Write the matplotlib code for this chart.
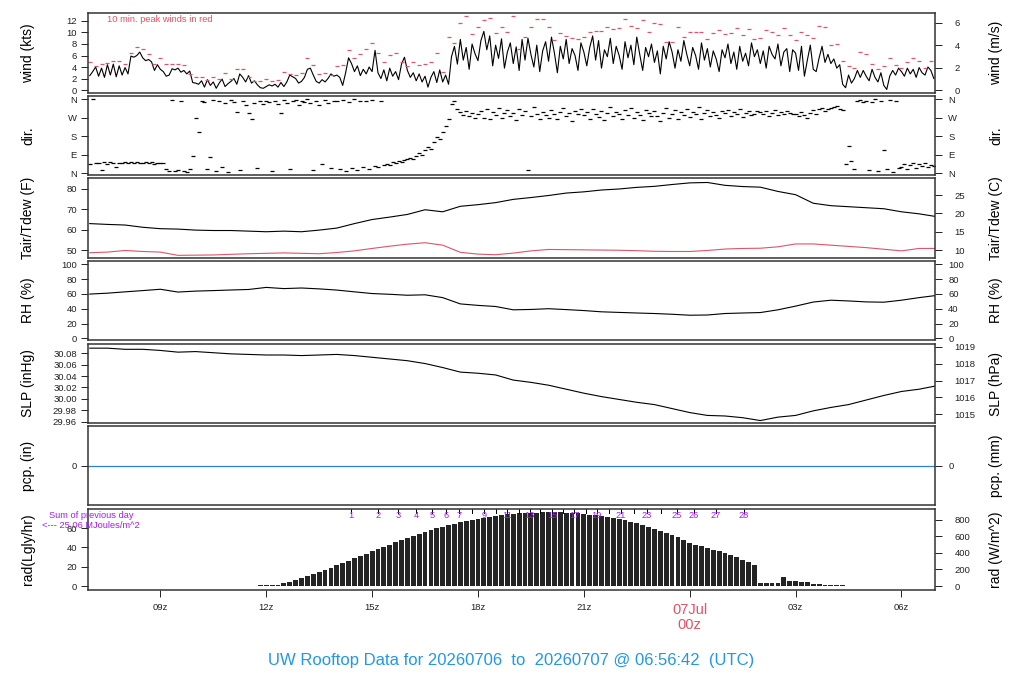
import numpy as np
import matplotlib
matplotlib.use('Agg')
import matplotlib.pyplot as plt
from matplotlib import transforms

plt.rcParams['font.family'] = ['Liberation Sans', 'DejaVu Sans']

# ---------------- data (time in hours since 2026-07-06 00z) ----------------
t_start = 6.95
t_end = 30.95

wind_t0 = 7.0
wind_dt = 5.0 / 60.0
wind_kts = [
    2.5, 3.2, 4.0, 2.4, 3.8, 2.2, 4.4, 2.6, 4.5, 2.3, 4.2, 2.6,
    3.9, 2.8, 5.9, 5.7, 6.0, 6.6, 5.6, 5.1, 5.3, 4.9, 3.4, 4.4,
    3.6, 3.2, 2.4, 2.6, 3.7, 3.5, 3.8, 3.1, 3.4, 2.8, 3.3, 1.3,
    1.2, 1.0, 1.6, 0.5, 1.8, 0.8, 1.4, 0.3, 1.2, 1.9, 0.6, 1.1,
    1.5, 2.0, 1.0, 2.8, 2.2, 1.4, 2.5, 1.2, 1.6, 0.9, 0.4, 0.3,
    0.6, 0.9, 0.7, 1.0, 0.5, 1.3, 0.6, 1.4, 2.6, 2.3, 2.0, 1.2,
    1.5, 2.2, 3.6, 3.8, 2.6, 1.5, 1.2, 1.8, 1.4, 2.0, 2.8, 2.4,
    2.6, 2.2, 0.8, 3.0, 5.6, 4.6, 3.2, 4.2, 2.5, 3.6, 2.8, 4.0,
    3.2, 6.9, 3.0, 2.0, 3.5, 1.6, 3.8, 2.4, 3.2, 1.8, 4.5, 5.7,
    3.4, 2.2, 3.0, 1.6, 2.8, 1.4, 2.4, 0.5, 2.2, 3.2, 1.3, 3.5,
    1.4, 2.6, 1.0, 5.8, 7.6, 4.5, 8.8, 5.2, 7.4, 3.6, 8.0, 6.3,
    5.1, 8.6, 10.2, 7.0, 9.4, 4.2, 7.8, 5.5, 8.9, 3.8, 6.6, 8.2,
    4.6, 7.5, 3.4, 8.8, 5.2, 9.0, 6.2, 4.0, 7.8, 3.2, 6.8, 8.4,
    5.0, 9.2, 6.4, 3.0, 7.6, 5.4, 8.8, 4.6, 7.2, 6.0, 3.4, 8.2,
    6.6, 4.2, 7.4, 9.4, 5.2, 8.6, 3.8, 7.0, 5.8, 9.0, 4.6, 7.6,
    6.0, 3.6, 8.4, 5.6, 7.8, 4.4, 9.2, 6.2, 3.4, 7.4, 5.8, 8.0,
    4.8, 6.8, 2.8, 7.6, 5.4, 8.4, 6.6, 3.8, 7.0, 5.0, 8.6, 6.2,
    4.2, 7.4, 6.0, 3.6, 8.2, 5.2, 7.2, 4.0, 6.8, 5.4, 3.2, 7.0,
    5.6, 8.0, 4.6, 6.6, 3.6, 7.6, 5.0, 6.4, 4.2, 8.2, 5.8, 7.0,
    4.6, 6.8, 3.8, 7.6, 6.2, 5.4, 8.0, 4.2, 6.6, 7.2, 3.2, 7.0,
    6.4, 3.4, 7.6, 2.4, 5.2, 7.8, 3.6, 3.2, 5.6, 7.6, 4.8, 6.2,
    4.6, 5.4, 3.8, 4.4, 1.0, 0.4, 2.6, 1.2, 2.0, 3.4, 2.2, 3.4,
    2.4, 1.6, 3.6, 2.2, 1.4, 3.0, 0.8, 0.1, 2.4, 3.4, 2.6, 3.8,
    3.2, 2.4, 3.8, 2.8, 3.6, 2.2, 3.9, 3.0, 2.6, 4.0, 3.4, 2.0,
]

peak_t0 = 7.0
peak_dt = 10.0 / 60.0
peak_kts = [
    4.8, 4.2, 4.6, 4.7, 5.0, 5.0,
    4.6, 6.5, 7.4, 7.2, 6.2, 4.5,
    5.6, 4.6, 4.6, 4.5, 4.4, 2.8,
    2.3, 2.3, 1.8, 2.3, 2.0, 3.0,
    2.0, 3.6, 3.6, 2.2, 1.6, 1.5,
    2.0, 1.6, 1.8, 3.2, 2.8, 2.6,
    3.0, 5.6, 4.4, 2.8, 3.0, 2.6,
    4.2, 4.4, 6.9, 5.6, 6.3, 7.2,
    8.1, 6.4, 4.8, 6.1, 6.4, 4.9,
    4.1, 4.9, 4.3, 4.6, 4.9, 6.4,
    3.1, 9.2, 8.1, 11.6, 12.9, 9.7,
    10.9, 12.1, 12.5, 9.9, 10.9, 10.1,
    12.9, 7.1, 9.3, 10.9, 12.3, 12.3,
    10.9, 8.7, 9.9, 9.4, 9.0, 8.8,
    9.2, 10.1, 10.3, 10.3, 10.9, 10.6,
    10.7, 12.3, 11.2, 10.7, 12.1, 10.1,
    11.6, 11.5, 8.4, 8.4, 10.9, 9.2,
    10.1, 10.0, 10.1, 8.8, 9.9, 10.4,
    9.7, 9.9, 10.7, 9.6, 10.6, 8.8,
    9.1, 10.5, 10.0, 9.6, 10.7, 9.5,
    8.7, 10.0, 9.5, 9.0, 11.1, 10.9,
    7.8, 8.0, 5.0, 4.2, 3.9, 6.6,
    6.2, 4.6, 3.7, 4.2, 5.5, 4.4,
    3.9, 4.8, 5.5, 5.0, 3.9, 5.1,
]

dir_t0 = 7.0
dir_dt = 5.0 / 60.0
dir_deg = [
    45, 358, 50, 48, 15, 52, 46, 55, 48, 30, 50, 47,
    52, 48, 55, 50, 53, 47, 50, 55, 49, 52, 46, 50,
    48, 50, 18, 12, 355, 8, 15, 352, 10, 5, 20, 85,
    266, 200, 350, 345, 20, 80, 355, 10, 348, 30, 340, 5,
    355, 345, 298, 15, 348, 330, 290, 265, 340, 25, 352, 335,
    350, 345, 10, 352, 338, 290, 355, 340, 20, 348, 356, 330,
    352, 345, 358, 340, 15, 350, 330, 45, 355, 342, 25, 350,
    350, 20, 355, 10, 345, 25, 358, 15, 352, 30, 348, 20,
    355, 35, 28, 350, 40, 45, 38, 52, 48, 60, 55, 65,
    70, 75, 68, 85, 95, 90, 110, 125, 118, 150, 175, 165,
    200, 230, 265, 335, 348, 310, 295, 282, 300, 275, 290, 270,
    285, 300, 270, 310, 262, 295, 280, 315, 268, 290, 305, 275,
    292, 258, 310, 280, 300, 15, 275, 320, 288, 265, 298, 282,
    270, 305, 285, 262, 298, 318, 278, 290, 255, 300, 285, 310,
    280, 296, 265, 312, 288, 272, 302, 258, 292, 320, 276, 298,
    288, 262, 305, 280, 315, 270, 295, 283, 260, 308, 290, 275,
    300, 278, 255, 292, 318, 268, 285, 305, 262, 296, 280, 310,
    272, 298, 285, 320, 265, 290, 308, 278, 295, 282, 268, 300,
    290, 305, 275, 298, 285, 310, 272, 294, 300, 280, 288, 302,
    295, 285, 300, 278, 290, 305, 282, 296, 288, 300, 292, 285,
    288, 275, 298, 282, 270, 292, 305, 286, 310, 318, 300, 312,
    315, 320, 328, 312, 308, 45, 130, 60, 20, 350, 355, 345,
    352, 15, 345, 358, 10, 348, 110, 20, 355, 5, 350, 25,
    30, 45, 20, 38, 50, 25, 42, 35, 48, 28, 40, 33,
]

met_t0 = 7.0
met_dt = 0.5
tair_f = [63.0, 62.6, 62.3, 61.2, 60.5, 60.3, 59.8, 59.6, 59.6, 59.3, 59.0, 59.3,
          59.0, 59.8, 60.8, 63.0, 65.0, 66.2, 67.5, 69.8, 68.8, 71.5, 72.3, 73.3,
          74.9, 75.8, 76.8, 78.0, 78.6, 79.5, 80.0, 80.8, 81.3, 82.2, 83.0, 83.2,
          81.8, 81.2, 80.9, 78.8, 77.2, 73.0, 71.8, 71.3, 70.8, 70.3, 68.8, 67.8, 66.4]
tdew_f = [48.7, 49.0, 49.8, 49.3, 49.0, 47.4, 47.5, 47.6, 47.9, 48.2, 48.4, 48.6,
          48.4, 48.2, 48.8, 49.6, 50.8, 51.9, 52.9, 53.6, 52.4, 48.9, 48.0, 47.7,
          48.5, 49.6, 50.3, 50.2, 50.1, 50.0, 49.9, 49.7, 49.4, 49.3, 49.3, 49.8,
          50.5, 50.8, 50.9, 51.6, 53.0, 53.0, 52.4, 51.8, 51.2, 50.4, 49.6, 50.8, 50.8]
rh_pct = [59.8, 61.0, 62.8, 64.5, 66.3, 62.5, 63.8, 64.5, 65.3, 66.0, 68.8, 67.2,
          68.0, 66.8, 65.2, 62.8, 60.5, 59.5, 58.2, 58.8, 55.0, 46.5, 44.5, 43.0,
          38.5, 39.0, 40.0, 38.8, 37.5, 35.8, 35.0, 34.2, 33.5, 32.5, 31.2, 31.5,
          33.5, 34.2, 34.8, 38.5, 43.5, 49.0, 51.5, 50.5, 49.2, 48.8, 51.5, 55.0, 58.0]
slp_inhg = [30.089, 30.089, 30.087, 30.087, 30.085, 30.082, 30.083, 30.081, 30.079,
            30.078, 30.077, 30.077, 30.076, 30.077, 30.078, 30.076, 30.073, 30.070,
            30.067, 30.062, 30.055, 30.047, 30.045, 30.042, 30.033, 30.029, 30.024,
            30.017, 30.010, 30.004, 29.999, 29.994, 29.990, 29.983, 29.976, 29.971,
            29.970, 29.967, 29.962, 29.968, 29.971, 29.979, 29.985, 29.990, 29.998,
            30.006, 30.013, 30.017, 30.023]

pcp_t = [6.95, 30.95]
pcp_in = [0.0, 0.0]

rad_t0 = 11.0 + 50.0 / 60.0
rad_dt = 10.0 / 60.0
rad_ly = [0.8, 0.8, 1.0, 1.5, 2.9, 4.7, 6.5, 8.4, 10.4, 12.2, 14.1, 16.3, 19.2, 21.4,
          23.9, 26.3, 28.8, 31.2, 33.7, 36.0, 37.9, 40.0, 42.4, 45.7, 47.9, 50.0,
          52.0, 54.1, 56.3, 58.1, 60.0, 61.6, 63.2, 64.7, 66.0, 67.2, 68.3, 69.6,
          70.9, 72.0, 73.0, 73.8, 74.5, 75.0, 75.4, 75.7, 75.9, 76.1, 76.2, 76.3,
          76.3, 76.2, 76.0, 75.7, 75.3, 74.7, 74.1, 73.4, 72.6, 71.6, 70.6, 69.4,
          67.9, 66.5, 65.1, 63.2, 61.4, 59.6, 57.5, 55.3, 53.0, 50.8, 47.9, 44.9,
          43.0, 41.4, 39.6, 37.7, 35.9, 34.1, 32.0, 29.8, 27.3, 24.7, 22.2, 2.9,
          2.7, 2.9, 2.8, 9.8, 5.3, 5.1, 4.6, 4.3, 1.8, 1.6, 1.5, 0.8, 0.7, 0.6, 0.5]

cum_mj = list(range(1, 29))
cum_hours = [14.40, 15.17, 15.73, 16.24, 16.70, 17.09, 17.46, 17.83, 18.17, 18.51,
             18.82, 19.16, 19.47, 19.77, 20.10, 20.41, 20.72, 21.06, 21.37, 21.71,
             22.05, 22.42, 22.79, 23.19, 23.64, 24.12, 24.74, 25.54]
cum_shown = [1, 2, 3, 4, 5, 6, 7, 9, 11, 13, 15, 17, 19, 21, 23, 25, 26, 27, 28]
prev_day_sum = "25.06"

xtick_hours = [9, 12, 15, 18, 21, 24, 27, 30]
xtick_labels = ['09z', '12z', '15z', '18z', '21z', '07Jul\n00z', '03z', '06z']

title = "UW Rooftop Data for 20260706  to  20260707 @ 06:56:42  (UTC)"

# ---------------- figure ----------------
W, H = 1024, 700
fig = plt.figure(figsize=(W / 100, H / 100), dpi=100)
RED = '#DF536B'
PURPLE = '#A020F0'
BLUE = '#2297E6'

left_px, right_px = 88, 935
panels_px = [(13, 93), (96, 175), (178, 258), (261, 340), (344, 423), (426, 505), (509, 590)]


def make_ax(top, bot):
    ax = fig.add_axes([left_px / W, 1 - bot / H, (right_px - left_px) / W, (bot - top) / H])
    ax.set_xlim(t_start, t_end)
    for s in ax.spines.values():
        s.set_linewidth(1.1)
        s.set_color('#333333')
    ax.tick_params(axis='both', direction='out', length=5, width=0.7,
                   labelsize=6.8, colors='#222222', pad=3)
    return ax


def twin(ax, lim, ticks, labels=None, pad=9):
    a2 = ax.twinx()
    a2.set_ylim(lim)
    a2.set_yticks(ticks)
    if labels is not None:
        a2.set_yticklabels(labels)
    a2.tick_params(axis='y', direction='out', length=5, width=0.7,
                   labelsize=6.8, colors='#222222', pad=pad)
    for lbl in a2.get_yticklabels():
        lbl.set_horizontalalignment('left')
    for s in a2.spines.values():
        s.set_visible(False)
    return a2


axes = [make_ax(t, b) for t, b in panels_px]
for ax in axes[:-1]:
    ax.set_xticks([])

kt_per_ms = 1.943844

# wind
ax = axes[0]
wt = wind_t0 + wind_dt * np.arange(len(wind_kts))
pt = peak_t0 + peak_dt * np.arange(len(peak_kts))
ax.plot(wt, wind_kts, color='black', lw=0.8)
ax.plot(pt, peak_kts, linestyle='none', marker='_', markersize=3.5, mew=0.9, color=RED)
ylim = (-0.52, 13.39)
ax.set_ylim(ylim)
ax.set_yticks([0, 2, 4, 6, 8, 10, 12])
twin(ax, (ylim[0] / kt_per_ms, ylim[1] / kt_per_ms), [0, 2, 4, 6], pad=9)
ax.text(0.022, 0.92, '10 min. peak winds in red', transform=ax.transAxes,
        color=RED, fontsize=6.7, va='center', ha='left')

# direction
ax = axes[1]
dt_ = dir_t0 + dir_dt * np.arange(len(dir_deg))
ax.plot(dt_, dir_deg, linestyle='none', marker='_', markersize=3.5, mew=0.9, color='black')
ylim = (-9.7, 374.6)
ax.set_ylim(ylim)
ax.set_yticks([0, 90, 180, 270, 360])
ax.set_yticklabels(['N', 'E', 'S', 'W', 'N'])
twin(ax, ylim, [0, 90, 180, 270, 360], ['N', 'E', 'S', 'W', 'N'], pad=4.5)

# temperature
ax = axes[2]
mt = met_t0 + met_dt * np.arange(len(tair_f))
ax.plot(mt, tair_f, color='black', lw=0.8)
ax.plot(mt, tdew_f, color=RED, lw=0.8)
ylim = (46.1, 85.4)
ax.set_ylim(ylim)
ax.set_yticks([50, 60, 70, 80])
twin(ax, ((ylim[0] - 32) * 5 / 9, (ylim[1] - 32) * 5 / 9), [10, 15, 20, 25], pad=9)

# RH
ax = axes[3]
ax.plot(mt, rh_pct, color='black', lw=0.8)
ylim = (-2.3, 104.5)
ax.set_ylim(ylim)
ax.set_yticks([0, 20, 40, 60, 80, 100])
twin(ax, ylim, [0, 20, 40, 60, 80, 100], pad=4.5)

# SLP
ax = axes[4]
ax.plot(mt, slp_inhg, color='black', lw=0.8)
ylim = (29.9577, 30.0963)
ax.set_ylim(ylim)
sticks = [29.96, 29.98, 30.00, 30.02, 30.04, 30.06, 30.08]
ax.set_yticks(sticks)
ax.set_yticklabels(['%.2f' % v for v in sticks])
twin(ax, (ylim[0] * 33.8639, ylim[1] * 33.8639), [1015, 1016, 1017, 1018, 1019], pad=9)

# precipitation
ax = axes[5]
ax.plot(pcp_t, pcp_in, color='#2F7FD2', lw=0.9)
ax.set_ylim(-1, 1)
ax.set_yticks([0])
twin(ax, (-25.4, 25.4), [0], pad=4.5)

# radiation
ax = axes[6]
rt = rad_t0 + rad_dt * np.arange(len(rad_ly))
ax.bar(rt, rad_ly, width=rad_dt * 0.82, color='#242424', linewidth=0)
ylim = (-4.1, 79.8)
ax.set_ylim(ylim)
ax.set_yticks([0, 20, 40, 60])
twin(ax, (ylim[0] * 11.63, ylim[1] * 11.63), [0, 200, 400, 600, 800], pad=9)
ax.set_xticks(xtick_hours)
ax.set_xticklabels(xtick_labels)
ax.tick_params(axis='x', labelsize=6.8, pad=4)
for lbl in ax.get_xticklabels():
    if '\n' in lbl.get_text():
        lbl.set_color(RED)
        lbl.set_fontsize(10.5)
        lbl.set_linespacing(1.1)

# cumulative radiation markers
trans = transforms.blended_transform_factory(ax.transData, ax.transAxes)
for v, h in zip(cum_mj, cum_hours):
    ax.plot([h, h], [1.0, 0.955], transform=trans, color='black', lw=0.7, clip_on=False)
    if v in cum_shown:
        ax.text(h, 0.915, str(v), transform=trans, color=PURPLE, fontsize=6.7,
                ha='center', va='center')

fig.text(90.8 / W, 1 - 515 / H, 'Sum of previous day', color=PURPLE, fontsize=6.7,
         ha='center', va='center')
fig.text(90.8 / W, 1 - 526 / H, '<--- %s MJoules/m^2' % prev_day_sum, color=PURPLE,
         fontsize=6.7, ha='center', va='center')

# axis labels
left_labels = ['wind (kts)', 'dir.', 'Tair/Tdew (F)', 'RH (%)', 'SLP (inHg)', 'pcp. (in)', 'rad(Lgly/hr)']
right_labels = ['wind (m/s)', 'dir.', 'Tair/Tdew (C)', 'RH (%)', 'SLP (hPa)', 'pcp. (mm)', 'rad (W/m^2)']
for (top, bot), ll, rl in zip(panels_px, left_labels, right_labels):
    yc = 1 - (top + bot) / 2 / H
    fig.text(28 / W, yc, ll, rotation=90, fontsize=10, ha='center', va='center', color='black')
    fig.text(996 / W, yc, rl, rotation=90, fontsize=10, ha='center', va='center', color='black')

fig.text(511.5 / W, 1 - 660 / H, title, color=BLUE, fontsize=12, ha='center', va='center')

fig.savefig('out.png', dpi=100)
